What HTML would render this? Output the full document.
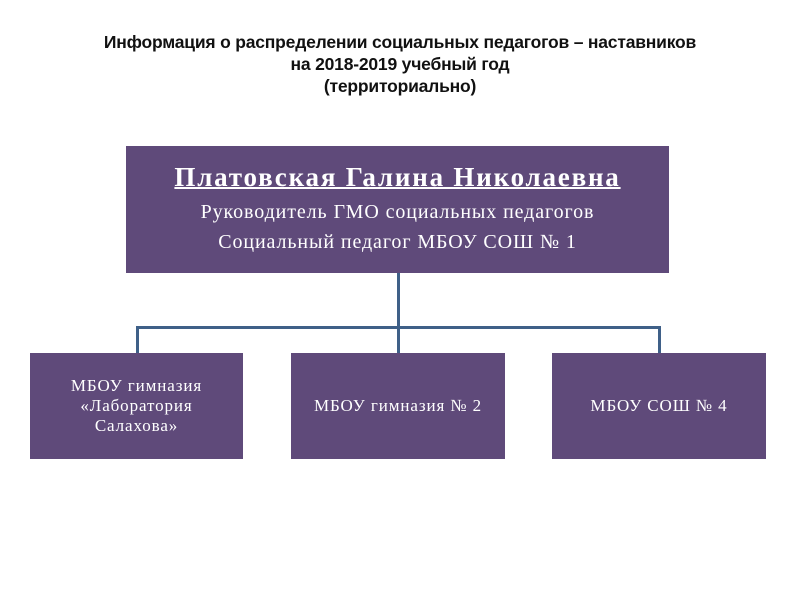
<!DOCTYPE html>
<html><head><meta charset="utf-8"><style>
body{margin:0;width:800px;height:600px;background:#fff;position:relative;overflow:hidden}
.t{position:absolute;left:0;width:800px;text-align:center;font-family:"Liberation Sans",sans-serif;font-weight:bold;font-size:17.5px;line-height:22px;color:#111;top:31px;letter-spacing:-0.2px}
.b{position:absolute;background:#5f4a7a;color:#fff;font-family:"Liberation Serif",serif;display:flex;align-items:center;justify-content:center;text-align:center}
.l{position:absolute;background:#3f6088}
.s{font-size:17px;letter-spacing:0.9px;line-height:20px}
</style></head><body>
<div class="t">Информация о распределении социальных педагогов – наставников<br>на 2018-2019 учебный год<br>(территориально)</div>
<div class="b" style="left:126px;top:146px;width:543px;height:127px;flex-direction:column">
<div style="font-size:27px;font-weight:bold;text-decoration:underline;text-decoration-thickness:2px;margin-bottom:4px;letter-spacing:1.8px">Платовская Галина Николаевна</div>
<div style="font-size:20px;line-height:30px;letter-spacing:0.9px">Руководитель ГМО социальных педагогов<br>Социальный педагог МБОУ СОШ № 1</div>
</div>
<div class="l" style="left:397px;top:273px;width:3px;height:80px"></div>
<div class="l" style="left:136px;top:326px;width:525px;height:3px"></div>
<div class="l" style="left:136px;top:326px;width:3px;height:27px"></div>
<div class="l" style="left:658px;top:326px;width:3px;height:27px"></div>
<div class="b s" style="left:30px;top:353px;width:213px;height:106px">МБОУ гимназия<br>«Лаборатория<br>Салахова»</div>
<div class="b s" style="left:291px;top:353px;width:214px;height:106px">МБОУ гимназия № 2</div>
<div class="b s" style="left:552px;top:353px;width:214px;height:106px">МБОУ СОШ № 4</div>
</body></html>
